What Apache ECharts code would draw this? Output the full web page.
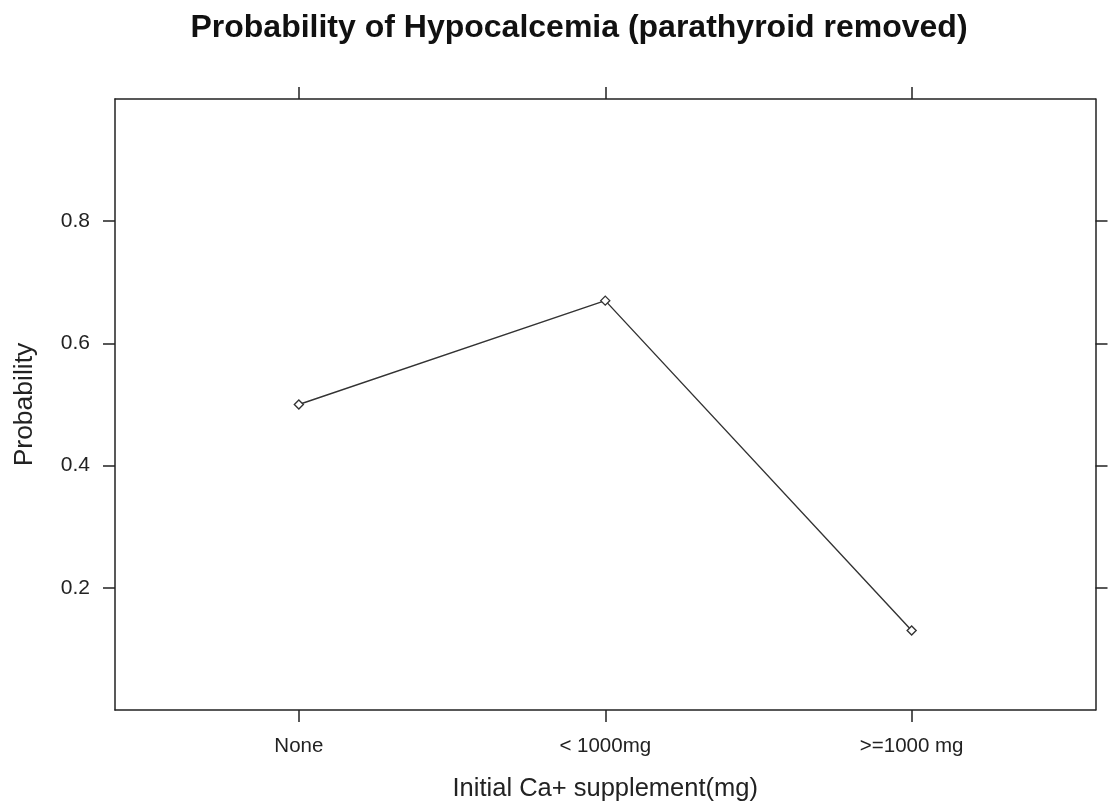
<!DOCTYPE html>
<html>
<head>
<meta charset="utf-8">
<script src="https://cdn.jsdelivr.net/npm/echarts@6/dist/echarts.min.js"></script>
<style>html,body{margin:0;padding:0;background:#fff;}#c{width:1108px;height:810px;}</style>
</head>
<body>
<div id="c"></div>
<script>
const categories = ['None', '< 1000mg', '>=1000 mg'];
const probability = [0.50, 0.67, 0.13];
const yTicks = [0.2, 0.4, 0.6, 0.8];

const catIdx = categories.map((_, i) => i);
const points = categories.map((c, i) => [i, probability[i]]);
const FONT = 'Liberation Sans, Arial, sans-serif';
const lineCol = '#222';

const chart = echarts.init(document.getElementById('c'));
const xBase = {
  type: 'value', min: -0.6, max: 2.6,
  axisLine: { show: true, onZero: false, lineStyle: { color: lineCol, width: 1.5 } },
  axisTick: { show: true, length: 12, customValues: catIdx, lineStyle: { color: lineCol, width: 1.5 } },
  splitLine: { show: false }
};
const yBase = {
  type: 'value', min: 0, max: 1,
  axisLine: { show: true, onZero: false, lineStyle: { color: lineCol, width: 1.5 } },
  axisTick: { show: true, length: 12, customValues: yTicks, lineStyle: { color: lineCol, width: 1.5 } },
  splitLine: { show: false }
};
chart.setOption({
  animation: false,
  backgroundColor: '#fff',
  title: {
    text: 'Probability of Hypocalcemia (parathyroid removed)',
    left: 574, top: 7, textAlign: 'center',
    textStyle: { fontFamily: FONT, fontWeight: 'bold', fontSize: 32, color: '#111' }
  },
  grid: { left: 115, right: 12.5, top: 99, bottom: 100, containLabel: false },
  xAxis: [
    Object.assign({}, xBase, {
      position: 'bottom',
      name: 'Initial Ca+ supplement(mg)', nameLocation: 'middle', nameGap: 66,
      nameTextStyle: { fontFamily: FONT, fontSize: 25.5, color: '#222' },
      axisLabel: { show: true, customValues: catIdx, margin: 26,
        formatter: v => categories[Math.round(v)],
        fontFamily: FONT, fontSize: 20.5, color: '#222' }
    }),
    Object.assign({}, xBase, { position: 'top', axisLabel: { show: false } })
  ],
  yAxis: [
    Object.assign({}, yBase, {
      position: 'left',
      name: 'Probability', nameLocation: 'middle', nameGap: 77,
      nameTextStyle: { fontFamily: FONT, fontSize: 26.5, color: '#222' },
      axisLabel: { show: true, customValues: yTicks, margin: 25,
        formatter: v => v.toFixed(1),
        fontFamily: FONT, fontSize: 21, color: '#222' }
    }),
    Object.assign({}, yBase, { position: 'right', axisLabel: { show: false } })
  ],
  series: [{
    type: 'line',
    xAxisIndex: 0, yAxisIndex: 0,
    data: points,
    symbol: 'diamond', symbolSize: 9,
    itemStyle: { color: '#fff', borderColor: '#333', borderWidth: 1.4 },
    lineStyle: { color: '#333', width: 1.4 }
  }]
});
</script>
</body>
</html>
